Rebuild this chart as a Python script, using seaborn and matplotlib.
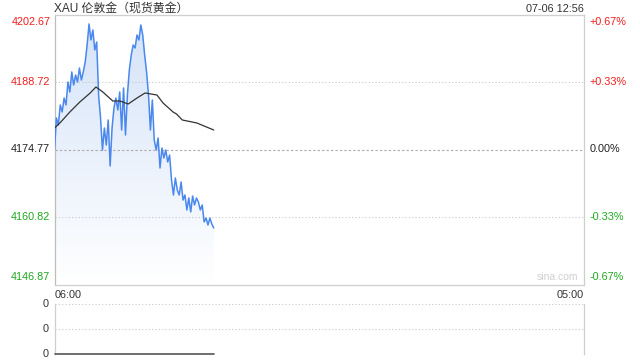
import numpy as np
import pandas as pd
import matplotlib
matplotlib.use("Agg")
import matplotlib.pyplot as plt
import seaborn as sns

# ---- data ----
title = "XAU 伦敦金（现货黄金）"
stamp = "07-06 12:56"
prev_close = 4174.77
price_ticks = [4202.67, 4188.72, 4174.77, 4160.82, 4146.87]
pct_ticks = ["+0.67%", "+0.33%", "0.00%", "-0.33%", "-0.67%"]
x_labels = ["06:00", "05:00"]
session_minutes = 1380  # 06:00 -> 05:00 next day

price_minutes = [0, 5, 10, 15, 20, 25, 30, 35, 40, 45, 50, 55, 60, 65, 70, 75, 80, 85, 90, 95,
                 100, 105, 110, 115, 120, 125, 130, 135, 140, 145, 150, 155, 160, 165, 170, 175,
                 180, 185, 190, 195, 200, 205, 210, 215, 220, 225, 230, 235, 240, 245, 250, 255,
                 260, 265, 270, 275, 280, 285, 290, 295, 300, 305, 310, 315, 320, 325, 330, 335,
                 340, 345, 350, 355, 360, 365, 370, 375, 380, 385, 390, 395, 400, 405, 410, 415]
price_values = [4174.67, 4181.28, 4179.83, 4183.97, 4182.52, 4185.41, 4183.97, 4188.72, 4186.65,
                4190.79, 4188.10, 4190.17, 4188.72, 4191.61, 4189.13, 4190.79, 4192.85, 4196.37,
                4200.71, 4197.40, 4199.47, 4195.33, 4196.99, 4186.03, 4181.28, 4174.67, 4179.21,
                4175.70, 4180.87, 4171.36, 4179.21, 4183.35, 4185.41, 4182.93, 4186.65, 4178.80,
                4187.48, 4177.77, 4186.03, 4191.20, 4194.30, 4196.37, 4195.75, 4198.43, 4197.40,
                4200.50, 4198.43, 4194.30, 4190.79, 4186.03, 4178.80, 4185.00, 4176.73, 4174.67,
                4177.15, 4170.95, 4175.08, 4173.01, 4174.67, 4172.19, 4173.63, 4168.47, 4165.37,
                4168.88, 4166.40, 4165.37, 4168.05, 4164.33, 4165.37, 4162.27, 4164.75, 4161.85,
                4165.16, 4163.30, 4164.75, 4163.92, 4162.27, 4163.30, 4159.79, 4160.61, 4159.17,
                4160.61, 4159.37, 4158.55]

avg_minutes = [0, 14, 40, 66, 93, 108, 126, 152, 171, 192, 215, 236, 267, 283, 309, 318, 333, 371, 415]
avg_values = [4179.21, 4180.25, 4182.52, 4184.59, 4186.45, 4187.69, 4186.65, 4184.79, 4184.79,
              4184.17, 4185.41, 4186.45, 4186.03, 4184.38, 4182.52, 4182.11, 4180.87, 4180.25, 4178.80]

volume_values = [0] * len(price_minutes)
vol_labels = ["0", "0", "0"]

# ---- styling ----
sns.set_theme(style="white")
plt.rcParams["font.family"] = ["Liberation Sans", "Noto Sans CJK SC", "DejaVu Sans"]

RED = "#f01e1e"
GREEN = "#1fa81f"
BLACK = "#222222"
LINE = "#4a88ee"
GRID = "#c8c8c8"
SPINE = "#cfcfcf"

fig = plt.figure(figsize=(6.4, 3.6), dpi=100)
ax = fig.add_axes([54.5 / 640, 1 - 284.5 / 360, 529.5 / 640, 270 / 360])
axv = fig.add_axes([54.5 / 640, 1 - 354 / 360, 529.5 / 640, 50 / 360])

df = pd.DataFrame({"minute": price_minutes, "price": price_values, "volume": volume_values})
dfa = pd.DataFrame({"minute": avg_minutes, "avg": avg_values})

ylo, yhi = price_ticks[-1], price_ticks[0]
ax.set_xlim(0, session_minutes)
ax.set_ylim(ylo, yhi)

# gradient fill under the price line
grad = np.linspace(0, 1, 256).reshape(-1, 1)
from matplotlib.colors import LinearSegmentedColormap
cmap = LinearSegmentedColormap.from_list("g", ["#d3e2f8", "#ffffff"])
im = ax.imshow(grad, cmap=cmap, aspect="auto", extent=[0, session_minutes, ylo, yhi],
               origin="upper", zorder=1)
poly = ax.fill_between(df["minute"], df["price"], ylo, color="none", lw=0)
clip = poly.get_paths()[0]
im.set_clip_path(clip, transform=ax.transData)

# gridlines
for v in price_ticks[1:4]:
    ax.axhline(v, color="#a8a8a8" if v == prev_close else GRID, lw=0.8,
               ls=(0, (2, 2)) if v == prev_close else (0, (1, 2)), zorder=2)

sns.lineplot(data=df, x="minute", y="price", ax=ax, color=LINE, lw=1.1, zorder=4)
sns.lineplot(data=dfa, x="minute", y="avg", ax=ax, color="#333333", lw=0.9, zorder=5)

ax.set_xticks([]); ax.set_yticks([])
ax.set_xlabel(""); ax.set_ylabel("")
for s in ax.spines.values():
    s.set_color(SPINE); s.set_linewidth(0.9); s.set_visible(True)
ax.spines["left"].set_color("#bdbdbd")

# price labels (left) and percent labels (right)
colors = [RED, RED, BLACK, GREEN, GREEN]
for i, (v, c, p) in enumerate(zip(price_ticks, colors, pct_ticks)):
    va = "top" if i == 0 else ("bottom" if i == len(price_ticks) - 1 else "center")
    off = -2 if i == 0 else (2 if i == len(price_ticks) - 1 else 0)
    ax.annotate(f"{v:.2f}", xy=(0, v), xycoords=("axes fraction", "data"),
                xytext=(-3, off), textcoords="offset points", ha="right", va=va,
                color=c, fontsize=7.8)
    ax.annotate(p, xy=(1, v), xycoords=("axes fraction", "data"),
                xytext=(4, off), textcoords="offset points", ha="left", va=va,
                color=c, fontsize=7.8)

ax.text(0.0, 1.0, title, transform=ax.transAxes, ha="left", va="bottom",
        fontsize=8.6, color="#333333", family=["Liberation Sans", "Noto Sans CJK SC"])
ax.text(1.0, 1.0, stamp, transform=ax.transAxes, ha="right", va="bottom",
        fontsize=7.8, color="#333333")
ax.text(0.0, -0.02, x_labels[0], transform=ax.transAxes, ha="left", va="top",
        fontsize=7.8, color="#333333")
ax.text(1.0, -0.02, x_labels[1], transform=ax.transAxes, ha="right", va="top",
        fontsize=7.8, color="#333333")
ax.text(0.99, 0.01, "sina.com", transform=ax.transAxes, ha="right", va="bottom",
        fontsize=7.5, color="#d0d0d0")

# volume panel
axv.set_xlim(0, session_minutes)
axv.set_ylim(0, 1)
for v in [0, 0.5, 1]:
    axv.axhline(v, color=GRID, lw=0.8, ls=(0, (1, 2)), zorder=1)
sns.lineplot(data=df, x="minute", y="volume", ax=axv, color="#555555", lw=1.2, zorder=3,
             clip_on=False)
axv.set_xticks([]); axv.set_yticks([])
axv.set_xlabel(""); axv.set_ylabel("")
for side in ["top", "bottom"]:
    axv.spines[side].set_visible(False)
for side in ["left", "right"]:
    axv.spines[side].set_color(SPINE); axv.spines[side].set_linewidth(0.9)
for v, lab in zip([1, 0.5, 0], vol_labels):
    axv.annotate(lab, xy=(0, v), xycoords=("axes fraction", "data"), xytext=(-4, 0),
                 textcoords="offset points", ha="right", va="center", fontsize=7.8,
                 color="#333333")

fig.savefig("out.png", dpi=100, facecolor="white")
